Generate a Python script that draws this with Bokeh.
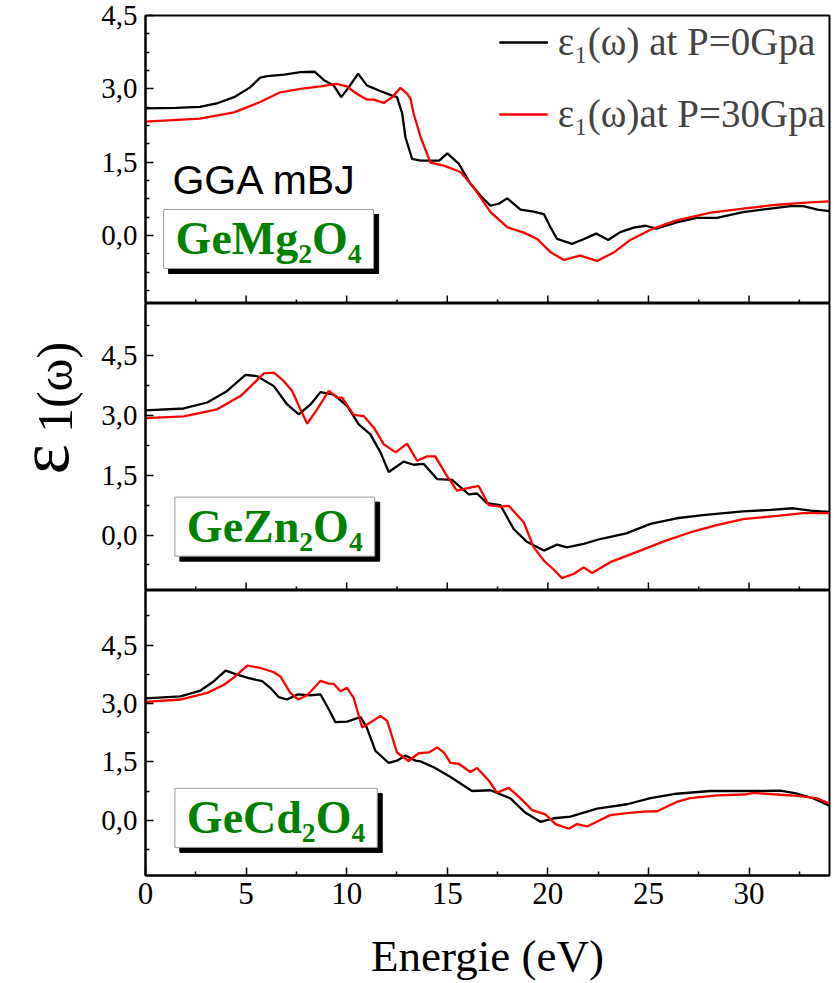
import math
from bokeh.plotting import figure
from bokeh.layouts import row, column
from bokeh.models import Range1d, FixedTicker, Label, Legend, LegendItem, CustomJSTickFormatter
from bokeh.core.properties import value
from bokeh.embed import file_html
from bokeh.resources import INLINE

# ---------------- data ----------------
energy_ticks = [0, 5, 10, 15, 20, 25, 30]
energy_minor = [2.5, 7.5, 12.5, 17.5, 22.5, 27.5, 32.5]
eps_ticks = [0.0, 1.5, 3.0, 4.5]
eps_minor_top = [-1.125, -0.75, -0.375, 0.375, 0.75, 1.125, 1.875, 2.25, 2.625, 3.375, 3.75, 4.125]
eps_minor = [-0.75, 0.75, 2.25, 3.75, 5.25]

series_labels = ["ε₁(ω) at P=0Gpa", "ε₁(ω)at P=30Gpa"]
compounds = ["GeMg₂O₄", "GeZn₂O₄", "GeCd₂O₄"]

mg_x_0 = [0, 1.5, 2.7, 3.6, 4.4, 5.2, 5.7, 6.05, 6.9, 7.7, 8.4, 8.9, 9.35, 9.73, 10.1, 10.57, 11.0, 11.7,
          12.26, 12.5, 12.76, 12.92, 13.25, 13.67, 14.2, 14.6, 15.0, 15.57, 16.15, 16.73, 17.15, 17.56,
          17.98, 18.64, 19.3, 19.8, 20.13, 20.46, 21.2, 21.8, 22.4, 23.0, 23.6, 24.27, 24.85, 25.4, 26.4,
          27.4, 28.4, 29.7, 31.06, 32.06, 32.7, 33.4, 34]
mg_y_0 = [2.60, 2.61, 2.63, 2.71, 2.83, 3.03, 3.23, 3.26, 3.29, 3.34, 3.35, 3.17, 3.07, 2.83, 3.03, 3.31,
          3.07, 2.95, 2.86, 2.83, 2.5, 2.01, 1.57, 1.53, 1.53, 1.53, 1.68, 1.47, 1.06, 0.78, 0.61, 0.65,
          0.76, 0.53, 0.49, 0.44, 0.17, -0.07, -0.17, -0.07, 0.04, -0.09, 0.07, 0.16, 0.2, 0.14, 0.27,
          0.36, 0.36, 0.48, 0.55, 0.6, 0.6, 0.53, 0.5]
mg_x_30 = [0, 2.7, 4.4, 5.7, 6.7, 7.7, 8.7, 9.5, 10.0, 10.5, 11.0, 11.35, 11.85, 12.26, 12.67, 13.0, 13.17,
           13.33, 13.67, 14.16, 14.83, 15.66, 16.3, 17.15, 17.98, 18.8, 19.47, 20.13, 20.8, 21.6, 22.45,
           23.3, 24.1, 25.1, 26.4, 28.1, 29.7, 31.4, 33.05, 34]
mg_y_30 = [2.33, 2.39, 2.52, 2.73, 2.93, 3.0, 3.05, 3.1, 3.05, 2.9, 2.78, 2.78, 2.71, 2.83, 3.02, 2.9, 2.8,
           2.49, 2.02, 1.49, 1.43, 1.3, 0.99, 0.48, 0.17, 0.06, -0.07, -0.34, -0.5, -0.41, -0.52, -0.34,
           -0.09, 0.12, 0.31, 0.47, 0.55, 0.63, 0.68, 0.7]

zn_x_0 = [0, 1.9, 3.07, 4.06, 4.97, 5.55, 6.38, 7.04, 7.62, 8.2, 8.7, 9.36, 10.03, 10.6, 11.18, 11.68,
          12.09, 12.83, 13.33, 13.83, 14.5, 15.24, 16.07, 16.48, 16.97, 17.64, 18.3, 18.96, 19.8, 20.46,
          20.95, 21.78, 22.6, 23.9, 25.1, 26.4, 27.7, 29.7, 31.06, 32.2, 33.06, 34]
zn_y_0 = [3.12, 3.17, 3.32, 3.61, 4.01, 3.98, 3.73, 3.27, 3.02, 3.27, 3.58, 3.52, 3.23, 2.77, 2.52, 2.07,
          1.58, 1.84, 1.76, 1.78, 1.4, 1.38, 1.02, 1.04, 0.8, 0.75, 0.15, -0.17, -0.39, -0.24, -0.31,
          -0.22, -0.1, 0.04, 0.28, 0.42, 0.5, 0.59, 0.63, 0.67, 0.61, 0.58]
zn_x_30 = [0, 1.9, 3.56, 4.72, 5.38, 5.88, 6.38, 6.87, 7.29, 7.7, 8.04, 8.53, 9.11, 9.53, 9.77, 10.35,
           10.85, 11.35, 11.85, 12.43, 13.0, 13.5, 14.0, 14.4, 14.98, 15.48, 15.97, 16.56, 17.06, 17.64,
           18.06, 18.8, 19.3, 19.8, 20.3, 20.7, 21.3, 21.78, 22.2, 23.1, 24.4, 25.76, 27.1, 28.4, 29.7,
           31.4, 32.7, 34]
zn_y_30 = [2.93, 2.97, 3.15, 3.48, 3.8, 4.05, 4.07, 3.86, 3.61, 3.15, 2.79, 3.15, 3.61, 3.44, 3.44, 3.01,
           2.98, 2.69, 2.27, 2.07, 2.29, 1.86, 1.97, 1.97, 1.48, 1.11, 1.17, 1.23, 0.75, 0.71, 0.73, 0.32,
           -0.31, -0.64, -0.87, -1.08, -0.97, -0.81, -0.95, -0.68, -0.43, -0.16, 0.07, 0.25, 0.4, 0.48,
           0.55, 0.55]

cd_x_0 = [0, 1.74, 2.73, 3.4, 3.98, 4.56, 5.13, 5.8, 6.2, 6.63, 7.04, 7.54, 8.2, 8.7, 9.11, 9.44, 10.02,
          10.69, 11.0, 11.43, 12.09, 12.5, 12.92, 13.42, 13.67, 14.33, 15.16, 16.23, 17.15, 18.14, 18.89,
          19.63, 20.3, 21.12, 22.45, 23.94, 25.1, 26.4, 28.08, 29.74, 31.56, 32.4, 33.2, 34]
cd_y_0 = [3.13, 3.18, 3.33, 3.57, 3.84, 3.74, 3.65, 3.57, 3.4, 3.16, 3.1, 3.23, 3.21, 3.23, 2.85, 2.52,
          2.53, 2.65, 2.38, 1.78, 1.47, 1.53, 1.66, 1.53, 1.51, 1.36, 1.11, 0.75, 0.77, 0.56, 0.19, -0.04,
          0.05, 0.09, 0.3, 0.41, 0.57, 0.68, 0.75, 0.75, 0.76, 0.68, 0.56, 0.37]
cd_x_30 = [0, 1.74, 3.07, 3.9, 4.4, 5.06, 5.72, 6.38, 6.71, 7.2, 7.59, 8.04, 8.7, 9.11, 9.36, 9.69, 10.02,
           10.35, 10.77, 11.18, 11.68, 12.01, 12.5, 13.08, 13.58, 14.08, 14.5, 14.83, 15.16, 15.57, 16.15,
           16.48, 17.06, 17.47, 18.06, 18.64, 19.22, 19.88, 20.38, 21.04, 21.45, 21.95, 23.1, 23.94, 24.77,
           25.43, 26.4, 27.08, 28.4, 29.74, 30.23, 31.4, 32.55, 33.38, 34]
cd_y_30 = [3.04, 3.1, 3.27, 3.48, 3.67, 3.97, 3.91, 3.8, 3.69, 3.27, 3.1, 3.21, 3.58, 3.51, 3.5, 3.31, 3.4,
           3.14, 2.38, 2.51, 2.68, 2.55, 1.74, 1.52, 1.72, 1.74, 1.87, 1.74, 1.47, 1.45, 1.24, 1.34, 1.02,
           0.71, 0.83, 0.56, 0.26, 0.15, -0.1, -0.22, -0.1, -0.16, 0.13, 0.18, 0.22, 0.23, 0.47, 0.57, 0.64,
           0.66, 0.7, 0.66, 0.62, 0.56, 0.43]

# ---------------- styling ----------------
SERIF = "Liberation Serif"
GREEN = "#008000"
LEFT_W = 92
FIG_W = 834 - LEFT_W
BORDER_L = 145 - LEFT_W

fmt = CustomJSTickFormatter(code="return tick.toFixed(1).replace('.', ',');")


def style_axis(ax):
    ax.axis_line_width = 2
    ax.major_tick_in = 8
    ax.major_tick_out = 0
    ax.minor_tick_in = 4
    ax.minor_tick_out = 0
    ax.major_tick_line_width = 1.5
    ax.minor_tick_line_width = 1.5
    ax.major_label_text_font = SERIF
    ax.major_label_text_color = "black"


def make_panel(height, y_lo, y_hi, minor, top_border, bottom_border, show_x):
    p = figure(width=FIG_W, height=height, x_range=Range1d(0, 34), y_range=Range1d(y_lo, y_hi),
               output_backend="svg", toolbar_location=None,
               x_axis_location="below" if show_x else None,
               min_border_left=BORDER_L, min_border_right=5,
               min_border_top=top_border, min_border_bottom=bottom_border)
    p.xgrid.visible = False
    p.ygrid.visible = False
    p.outline_line_color = "black"
    p.outline_line_width = 2
    p.background_fill_color = "white"
    p.border_fill_color = "white"

    p.yaxis.ticker = FixedTicker(ticks=eps_ticks, minor_ticks=minor)
    p.yaxis.formatter = fmt
    style_axis(p.yaxis[0])
    p.yaxis.major_label_text_font_size = "29px"
    p.yaxis.major_label_standoff = 8
    if show_x:
        p.xaxis.ticker = FixedTicker(ticks=energy_ticks, minor_ticks=energy_minor)
        style_axis(p.xaxis[0])
        p.xaxis.major_label_text_font_size = "31px"
        p.xaxis.major_label_standoff = 7
        p.xaxis.axis_label = "Energie (eV)"
        p.xaxis.axis_label_text_font = SERIF
        p.xaxis.axis_label_text_font_size = "45px"
        p.xaxis.axis_label_text_font_style = "normal"
        p.xaxis.axis_label_text_color = "black"
        p.xaxis.axis_label_standoff = 24
    else:
        # inward energy ticks along the shared lower edge
        p.ray(x=energy_ticks, y=[y_lo] * len(energy_ticks), length=8, length_units="screen",
              angle=math.pi / 2, line_color="black", line_width=1.5)
        p.ray(x=energy_minor, y=[y_lo] * len(energy_minor), length=4, length_units="screen",
              angle=math.pi / 2, line_color="black", line_width=1.5)
    return p


p1 = make_panel(303, -1.39, 4.5, eps_minor_top, 15, 0, False)
p2 = make_panel(287, -1.39, 5.8, eps_minor, 0, 0, False)
p3 = make_panel(393, -1.42, 5.9, eps_minor, 0, 105, True)

panels = [
    (p1, mg_x_0, mg_y_0, mg_x_30, mg_y_30),
    (p2, zn_x_0, zn_y_0, zn_x_30, zn_y_30),
    (p3, cd_x_0, cd_y_0, cd_x_30, cd_y_30),
]
renderers = []
for p, x0, y0, x30, y30 in panels:
    r0 = p.line(x0, y0, line_color="black", line_width=2.3)
    r30 = p.line(x30, y30, line_color="red", line_width=2.3)
    renderers.append((r0, r30))

# legend in the top panel
legend = Legend(items=[LegendItem(label=series_labels[0], renderers=[renderers[0][0]]),
                       LegendItem(label=series_labels[1], renderers=[renderers[0][1]])],
                location="top_right", label_text_font=SERIF, label_text_font_size="39px",
                glyph_width=49, glyph_height=36, label_height=36, spacing=27, padding=4, margin=0,
                label_standoff=10, border_line_alpha=0, background_fill_alpha=0)
p1.add_layout(legend)

# method label
p1.add_layout(Label(x=1.34, y=1.13, text="GGA mBJ", text_font="Liberation Sans",
                    text_font_size="41px", text_color="black", text_baseline="alphabetic"))

# compound boxes with drop shadow
box_pos = [(p1, 0.9, -0.07), (p2, 1.46, 0.21), (p3, 1.46, 0.06)]
for (p, bx, by), name in zip(box_pos, compounds):
    common = dict(x=bx, y=by, text=name, text_font=SERIF, text_font_size="46px",
                  text_font_style="bold", text_align="left", text_baseline="middle", padding=(12, 4))
    p.add_layout(Label(**common, text_color="black", background_fill_color="black",
                       border_line_color="black", x_offset=5, y_offset=-5))
    p.add_layout(Label(**common, text_color=GREEN, background_fill_color="white",
                       border_line_color="#9a9a9a", border_line_width=1))

# y-axis title column (pixel coordinates, origin bottom-left)
pl = figure(width=LEFT_W, height=983, x_range=Range1d(0, LEFT_W), y_range=Range1d(0, 983),
            x_axis_type=None, y_axis_type=None, output_backend="svg", toolbar_location=None,
            min_border=0)
pl.outline_line_color = None
pl.xgrid.visible = False
pl.ygrid.visible = False
pl.text(x=[43], y=[983 - 459], text=["ε"], angle=math.pi / 2, text_font=value(SERIF),
        text_font_size="72px", text_baseline="middle", text_align="center", text_color="black")
pl.text(x=[54], y=[983 - 387], text=["1(ω)"], angle=math.pi / 2, text_font=value(SERIF),
        text_font_size="50px", text_baseline="middle", text_align="center", text_color="black")

layout = row(pl, column(p1, p2, p3, spacing=0), spacing=0)

open("out.html", "w").write(file_html(layout, INLINE))
